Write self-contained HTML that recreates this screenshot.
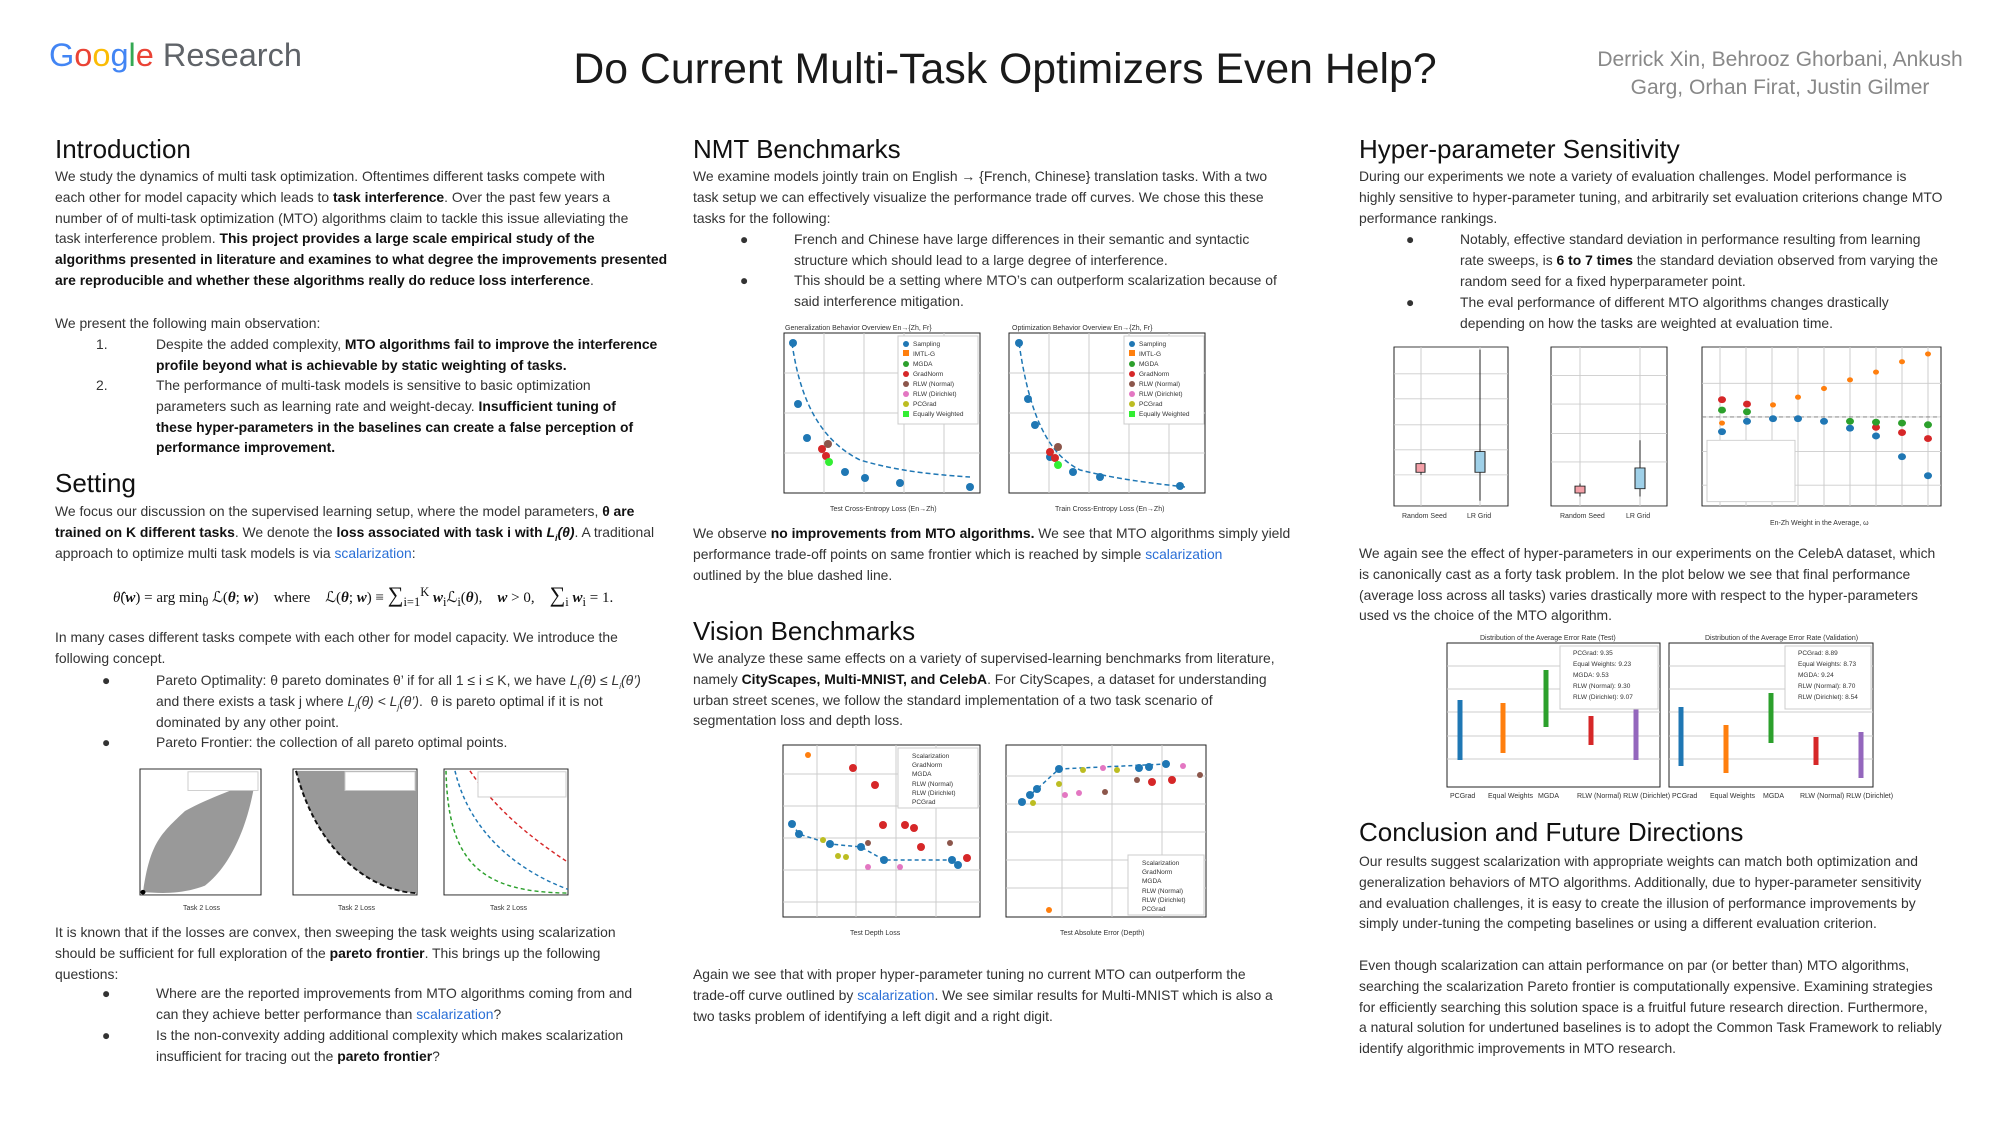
<!DOCTYPE html>
<html><head><meta charset="utf-8">
<style>
html,body{margin:0;padding:0;background:#fff;}
body{width:2000px;height:1125px;position:relative;overflow:hidden;font-family:"Liberation Sans",Arial,sans-serif;color:#222;}
.a{position:absolute;}
.h{position:absolute;font-size:26px;line-height:30px;color:#111;white-space:nowrap;}
.t{position:absolute;font-size:13.9px;line-height:20.8px;color:#333;white-space:nowrap;}
.t div{height:20.8px;}
b{color:#111;}
.lk{color:#2a6fd6;}
.bl{position:absolute;left:-54px;}
.nm{position:absolute;left:-60px;}
svg text{font-family:"Liberation Sans",Arial,sans-serif;}
</style></head><body>

<div class="a" style="left:49px;top:34px;font-size:32.5px;line-height:42px;white-space:nowrap;"><span style="color:#4285F4">G</span><span style="color:#EA4335">o</span><span style="color:#FBBC05">o</span><span style="color:#4285F4">g</span><span style="color:#34A853">l</span><span style="color:#EA4335">e</span> <span style="color:#5f6368">Research</span></div>
<div class="a" style="left:505px;width:1000px;top:44px;text-align:center;font-size:42.8px;line-height:50px;color:#1a1a1a;white-space:nowrap;">Do Current Multi-Task Optimizers Even Help?</div>
<div class="a" style="left:1570px;width:420px;top:46px;text-align:center;font-size:21px;line-height:28px;color:#888;">Derrick Xin, Behrooz Ghorbani, Ankush<br>Garg, Orhan Firat, Justin Gilmer</div>

<!-- Column 1 -->
<div class="h" style="left:55px;top:134px;">Introduction</div>
<div class="t" style="left:55px;top:166px;">
<div>We study the dynamics of multi task optimization. Oftentimes different tasks compete with</div>
<div>each other for model capacity which leads to <b>task interference</b>. Over the past few years a</div>
<div>number of of multi-task optimization (MTO) algorithms claim to tackle this issue alleviating the</div>
<div>task interference problem. <b>This project provides a large scale empirical study of the</b></div>
<div><b>algorithms presented in literature and examines to what degree the improvements presented</b></div>
<div><b>are reproducible and whether these algorithms really do reduce loss interference</b>.</div>
</div>
<div class="t" style="left:55px;top:313px;"><div>We present the following main observation:</div></div>
<div class="t" style="left:156px;top:334px;"><span class="nm">1.</span>
<div>Despite the added complexity, <b>MTO algorithms fail to improve the interference</b></div>
<div><b>profile beyond what is achievable by static weighting of tasks.</b></div></div>
<div class="t" style="left:156px;top:375px;"><span class="nm">2.</span>
<div>The performance of multi-task models is sensitive to basic optimization</div>
<div>parameters such as learning rate and weight-decay. <b>Insufficient tuning of</b></div>
<div><b>these hyper-parameters in the baselines can create a false perception of</b></div>
<div><b>performance improvement.</b></div></div>

<div class="h" style="left:55px;top:468px;">Setting</div>
<div class="t" style="left:55px;top:501px;">
<div>We focus our discussion on the supervised learning setup, where the model parameters, <b>θ are</b></div>
<div><b>trained on K different tasks</b>. We denote the <b>loss associated with task i with <i>L<sub style="font-size:9px">i</sub>(θ)</i></b>. A traditional</div>
<div>approach to optimize multi task models is via <span class="lk">scalarization</span>:</div>
</div>
<div class="a" style="left:113px;top:582px;font-family:'Liberation Serif',serif;font-size:15px;white-space:nowrap;color:#111;"><i>θ̂</i>(<b><i>w</i></b>) = arg min<sub>θ</sub> ℒ(<b><i>θ</i></b>; <b><i>w</i></b>) &nbsp;&nbsp; where &nbsp;&nbsp; ℒ(<b><i>θ</i></b>; <b><i>w</i></b>) ≡ <span style="font-size:22px">∑</span><sub>i=1</sub><sup>K</sup> <b><i>w</i></b><sub>i</sub>ℒ<sub>i</sub>(<b><i>θ</i></b>), &nbsp;&nbsp; <b><i>w</i></b> &gt; 0, &nbsp;&nbsp; <span style="font-size:22px">∑</span><sub>i</sub> <b><i>w</i></b><sub>i</sub> = 1.</div>
<div class="t" style="left:55px;top:627px;">
<div>In many cases different tasks compete with each other for model capacity. We introduce the</div>
<div>following concept.</div></div>
<div class="t" style="left:156px;top:670px;"><span class="bl">●</span>
<div>Pareto Optimality: θ pareto dominates θ’ if for all 1 ≤ i ≤ K, we have <i>L<sub style="font-size:8px">i</sub>(θ) ≤ L<sub style="font-size:8px">i</sub>(θ’)</i></div>
<div>and there exists a task j where <i>L<sub style="font-size:8px">j</sub>(θ) &lt; L<sub style="font-size:8px">j</sub>(θ’)</i>. &nbsp;θ is pareto optimal if it is not</div>
<div>dominated by any other point.</div></div>
<div class="t" style="left:156px;top:732px;"><span class="bl">●</span><div>Pareto Frontier: the collection of all pareto optimal points.</div></div>

<div class="t" style="left:55px;top:922px;">
<div>It is known that if the losses are convex, then sweeping the task weights using scalarization</div>
<div>should be sufficient for full exploration of the <b>pareto frontier</b>. This brings up the following</div>
<div>questions:</div></div>
<div class="t" style="left:156px;top:983px;"><span class="bl">●</span>
<div>Where are the reported improvements from MTO algorithms coming from and</div>
<div>can they achieve better performance than <span class="lk">scalarization</span>?</div></div>
<div class="t" style="left:156px;top:1025px;"><span class="bl">●</span>
<div>Is the non-convexity adding additional complexity which makes scalarization</div>
<div>insufficient for tracing out the <b>pareto frontier</b>?</div></div>

<!-- Column 2 -->
<div class="h" style="left:693px;top:134px;">NMT Benchmarks</div>
<div class="t" style="left:693px;top:166px;">
<div>We examine models jointly train on English → {French, Chinese} translation tasks. With a two</div>
<div>task setup we can effectively visualize the performance trade off curves. We chose this these</div>
<div>tasks for the following:</div></div>
<div class="t" style="left:794px;top:229px;"><span class="bl">●</span>
<div>French and Chinese have large differences in their semantic and syntactic</div>
<div>structure which should lead to a large degree of interference.</div></div>
<div class="t" style="left:794px;top:270px;"><span class="bl">●</span>
<div>This should be a setting where MTO’s can outperform scalarization because of</div>
<div>said interference mitigation.</div></div>
<div class="t" style="left:693px;top:523px;">
<div>We observe <b>no improvements from MTO algorithms.</b> We see that MTO algorithms simply yield</div>
<div>performance trade-off points on same frontier which is reached by simple <span class="lk">scalarization</span></div>
<div>outlined by the blue dashed line.</div></div>
<div class="h" style="left:693px;top:616px;">Vision Benchmarks</div>
<div class="t" style="left:693px;top:648px;">
<div>We analyze these same effects on a variety of supervised-learning benchmarks from literature,</div>
<div>namely <b>CityScapes, Multi-MNIST, and CelebA</b>. For CityScapes, a dataset for understanding</div>
<div>urban street scenes, we follow the standard implementation of a two task scenario of</div>
<div>segmentation loss and depth loss.</div></div>
<div class="t" style="left:693px;top:964px;">
<div>Again we see that with proper hyper-parameter tuning no current MTO can outperform the</div>
<div>trade-off curve outlined by <span class="lk">scalarization</span>. We see similar results for Multi-MNIST which is also a</div>
<div>two tasks problem of identifying a left digit and a right digit.</div></div>

<!-- Column 3 -->
<div class="h" style="left:1359px;top:134px;">Hyper-parameter Sensitivity</div>
<div class="t" style="left:1359px;top:166px;">
<div>During our experiments we note a variety of evaluation challenges. Model performance is</div>
<div>highly sensitive to hyper-parameter tuning, and arbitrarily set evaluation criterions change MTO</div>
<div>performance rankings.</div></div>
<div class="t" style="left:1460px;top:229px;"><span class="bl">●</span>
<div>Notably, effective standard deviation in performance resulting from learning</div>
<div>rate sweeps, is <b>6 to 7 times</b> the standard deviation observed from varying the</div>
<div>random seed for a fixed hyperparameter point.</div></div>
<div class="t" style="left:1460px;top:292px;"><span class="bl">●</span>
<div>The eval performance of different MTO algorithms changes drastically</div>
<div>depending on how the tasks are weighted at evaluation time.</div></div>
<div class="t" style="left:1359px;top:543px;">
<div>We again see the effect of hyper-parameters in our experiments on the CelebA dataset, which</div>
<div>is canonically cast as a forty task problem. In the plot below we see that final performance</div>
<div>(average loss across all tasks) varies drastically more with respect to the hyper-parameters</div>
<div>used vs the choice of the MTO algorithm.</div></div>
<div class="h" style="left:1359px;top:817px;">Conclusion and Future Directions</div>
<div class="t" style="left:1359px;top:851px;">
<div>Our results suggest scalarization with appropriate weights can match both optimization and</div>
<div>generalization behaviors of MTO algorithms. Additionally, due to hyper-parameter sensitivity</div>
<div>and evaluation challenges, it is easy to create the illusion of performance improvements by</div>
<div>simply under-tuning the competing baselines or using a different evaluation criterion.</div></div>
<div class="t" style="left:1359px;top:955px;">
<div>Even though scalarization can attain performance on par (or better than) MTO algorithms,</div>
<div>searching the scalarization Pareto frontier is computationally expensive. Examining strategies</div>
<div>for efficiently searching this solution space is a fruitful future research direction. Furthermore,</div>
<div>a natural solution for undertuned baselines is to adopt the Common Task Framework to reliably</div>
<div>identify algorithmic improvements in MTO research.</div></div>

<svg class="a" style="left:0;top:0" width="2000" height="1125" viewBox="0 0 2000 1125">
<!-- col1 charts -->
<g transform="translate(0,769) scale(1,0.933) translate(0,-780)">
<g fill="none" stroke="#222" stroke-width="1">
<rect x="140" y="780" width="121" height="135"/>
<rect x="293" y="780" width="124" height="135"/>
<rect x="444" y="780" width="124" height="135"/>
</g>
<path d="M143,912 C150,860 160,850 185,825 C210,810 240,800 255,792 C250,830 235,880 205,905 C180,915 160,913 143,912Z" fill="#999"/>
<path d="M296,782 L417,782 L417,913 C380,912 320,880 296,782Z" fill="#999"/>
<path d="M296,782 C320,880 380,912 417,913" fill="none" stroke="#111" stroke-width="2" stroke-dasharray="5,3"/>
<path d="M470,782 C500,830 540,860 568,880" fill="none" stroke="#d62728" stroke-width="1.5" stroke-dasharray="4,3"/>
<path d="M455,782 C470,850 520,890 568,909" fill="none" stroke="#1f77b4" stroke-width="1.5" stroke-dasharray="4,3"/>
<path d="M446,782 C448,880 480,912 568,913" fill="none" stroke="#2ca02c" stroke-width="1.5" stroke-dasharray="4,3"/>
<rect x="188" y="783" width="70" height="20" fill="#fff" stroke="#ccc"/>
<rect x="345" y="783" width="70" height="20" fill="#fff" stroke="#ccc"/>
<rect x="478" y="783" width="88" height="27" fill="#fff" stroke="#ccc"/>
<circle cx="143" cy="912" r="2.5" fill="#000"/>
</g>
<g fill="none" stroke="#222" stroke-width="1">
<rect x="784" y="333" width="196" height="160"/>
<rect x="1009" y="333" width="196" height="160"/>
<rect x="783" y="745" width="197" height="172"/>
<rect x="1006" y="745" width="200" height="172"/>
<rect x="1447" y="643" width="213" height="144"/>
<rect x="1669" y="643" width="204" height="144"/>
</g>
<g stroke="#ccc" stroke-width="1">
<line x1="784" y1="373" x2="980" y2="373"/><line x1="784" y1="413" x2="980" y2="413"/><line x1="784" y1="453" x2="980" y2="453"/>
<line x1="824" y1="333" x2="824" y2="493"/><line x1="864" y1="333" x2="864" y2="493"/><line x1="904" y1="333" x2="904" y2="493"/><line x1="944" y1="333" x2="944" y2="493"/>
<line x1="1009" y1="373" x2="1205" y2="373"/><line x1="1009" y1="413" x2="1205" y2="413"/><line x1="1009" y1="453" x2="1205" y2="453"/>
<line x1="1049" y1="333" x2="1049" y2="493"/><line x1="1089" y1="333" x2="1089" y2="493"/><line x1="1129" y1="333" x2="1129" y2="493"/><line x1="1169" y1="333" x2="1169" y2="493"/>
<line x1="783" y1="774" x2="980" y2="774"/><line x1="783" y1="806" x2="980" y2="806"/><line x1="783" y1="838" x2="980" y2="838"/><line x1="783" y1="870" x2="980" y2="870"/><line x1="783" y1="902" x2="980" y2="902"/>
<line x1="817" y1="745" x2="817" y2="917"/><line x1="856" y1="745" x2="856" y2="917"/><line x1="896" y1="745" x2="896" y2="917"/><line x1="936" y1="745" x2="936" y2="917"/>
<line x1="1006" y1="776" x2="1206" y2="776"/><line x1="1006" y1="804" x2="1206" y2="804"/><line x1="1006" y1="832" x2="1206" y2="832"/><line x1="1006" y1="860" x2="1206" y2="860"/><line x1="1006" y1="888" x2="1206" y2="888"/>
<line x1="1062" y1="745" x2="1062" y2="917"/><line x1="1112" y1="745" x2="1112" y2="917"/><line x1="1162" y1="745" x2="1162" y2="917"/>
<line x1="1447" y1="666" x2="1660" y2="666"/><line x1="1447" y1="689" x2="1660" y2="689"/><line x1="1447" y1="712" x2="1660" y2="712"/><line x1="1447" y1="736" x2="1660" y2="736"/><line x1="1447" y1="759" x2="1660" y2="759"/>
<line x1="1669" y1="666" x2="1873" y2="666"/><line x1="1669" y1="689" x2="1873" y2="689"/><line x1="1669" y1="712" x2="1873" y2="712"/><line x1="1669" y1="736" x2="1873" y2="736"/><line x1="1669" y1="759" x2="1873" y2="759"/>
</g>
<!-- hyper charts (scaled) -->
<g transform="translate(0,347) scale(1,0.864) translate(0,-347)">
<g fill="none" stroke="#222" stroke-width="1">
<rect x="1394" y="347" width="114" height="184"/>
<rect x="1551" y="347" width="116" height="184"/>
<rect x="1702" y="347" width="239" height="184"/>
</g>
<g stroke="#ccc" stroke-width="1">
<line x1="1394" y1="378" x2="1508" y2="378"/><line x1="1394" y1="407" x2="1508" y2="407"/><line x1="1394" y1="437" x2="1508" y2="437"/><line x1="1394" y1="466" x2="1508" y2="466"/><line x1="1394" y1="495" x2="1508" y2="495"/>
<line x1="1421" y1="347" x2="1421" y2="531"/><line x1="1480" y1="347" x2="1480" y2="531"/>
<line x1="1551" y1="380" x2="1667" y2="380"/><line x1="1551" y1="413" x2="1667" y2="413"/><line x1="1551" y1="447" x2="1667" y2="447"/><line x1="1551" y1="480" x2="1667" y2="480"/>
<line x1="1580" y1="347" x2="1580" y2="531"/><line x1="1640" y1="347" x2="1640" y2="531"/>
<line x1="1702" y1="389" x2="1941" y2="389"/><line x1="1702" y1="428" x2="1941" y2="428"/><line x1="1702" y1="468" x2="1941" y2="468"/><line x1="1702" y1="507" x2="1941" y2="507"/>
<line x1="1720" y1="347" x2="1720" y2="531"/><line x1="1746" y1="347" x2="1746" y2="531"/><line x1="1772" y1="347" x2="1772" y2="531"/><line x1="1798" y1="347" x2="1798" y2="531"/><line x1="1824" y1="347" x2="1824" y2="531"/><line x1="1850" y1="347" x2="1850" y2="531"/><line x1="1876" y1="347" x2="1876" y2="531"/><line x1="1902" y1="347" x2="1902" y2="531"/><line x1="1928" y1="347" x2="1928" y2="531"/>
</g>
<line x1="1421" y1="480" x2="1421" y2="495" stroke="#222"/>
<line x1="1480" y1="350" x2="1480" y2="525" stroke="#222"/>
<line x1="1580" y1="505" x2="1580" y2="520" stroke="#222"/>
<line x1="1640" y1="455" x2="1640" y2="520" stroke="#222"/>
<rect x="1416" y="482" width="9" height="10" fill="#f4a0a8" stroke="#222"/>
<rect x="1475" y="468" width="10" height="24" fill="#9fd0e8" stroke="#222"/>
<rect x="1575" y="508" width="10" height="8" fill="#f4a0a8" stroke="#222"/>
<rect x="1635" y="487" width="10" height="24" fill="#9fd0e8" stroke="#222"/>
<path d="M1702,428 L1941,428" stroke="#777" stroke-dasharray="4,3"/>
<g fill="#1f77b4"><circle cx="1722" cy="445" r="4"/><circle cx="1747" cy="433" r="4"/><circle cx="1773" cy="430" r="4"/><circle cx="1798" cy="430" r="4"/><circle cx="1824" cy="433" r="4"/><circle cx="1850" cy="441" r="4"/><circle cx="1876" cy="450" r="4"/><circle cx="1902" cy="474" r="4"/><circle cx="1928" cy="496" r="4"/></g>
<g fill="#ff7f0e"><circle cx="1722" cy="435" r="3"/><circle cx="1773" cy="414" r="3"/><circle cx="1798" cy="405" r="3"/><circle cx="1824" cy="395" r="3"/><circle cx="1850" cy="385" r="3"/><circle cx="1876" cy="376" r="3"/><circle cx="1902" cy="364" r="3"/><circle cx="1928" cy="355" r="3"/></g>
<g fill="#d62728"><circle cx="1722" cy="408" r="4"/><circle cx="1747" cy="413" r="4"/><circle cx="1876" cy="440" r="4"/><circle cx="1902" cy="446" r="4"/><circle cx="1928" cy="453" r="4"/></g>
<g fill="#2ca02c"><circle cx="1722" cy="420" r="4"/><circle cx="1747" cy="422" r="4"/><circle cx="1850" cy="433" r="4"/><circle cx="1876" cy="434" r="4"/><circle cx="1902" cy="435" r="4"/><circle cx="1928" cy="437" r="4"/></g>
<rect x="1707" y="455" width="88" height="71" fill="#fff" stroke="#ccc"/>
</g>
<!-- nmt curves -->
<path d="M792,343 C800,400 820,440 860,460 C900,472 940,475 970,477" fill="none" stroke="#1f77b4" stroke-width="1.5" stroke-dasharray="5,3"/>
<g fill="#1f77b4"><circle cx="793" cy="343" r="4"/><circle cx="798" cy="404" r="4"/><circle cx="807" cy="438" r="4"/><circle cx="845" cy="472" r="4"/><circle cx="865" cy="478" r="4"/><circle cx="900" cy="483" r="4"/><circle cx="970" cy="487" r="4"/>
<circle cx="1019" cy="343" r="4"/><circle cx="1028" cy="399" r="4"/><circle cx="1035" cy="425" r="4"/><circle cx="1050" cy="457" r="4"/><circle cx="1073" cy="472" r="4"/><circle cx="1100" cy="477" r="4"/><circle cx="1180" cy="486" r="4"/></g>
<path d="M1019,343 C1030,420 1050,455 1080,470 C1120,480 1160,484 1185,487" fill="none" stroke="#1f77b4" stroke-width="1.5" stroke-dasharray="5,3"/>
<g fill="#d62728"><circle cx="822" cy="449" r="4"/><circle cx="826" cy="456" r="4"/><circle cx="1050" cy="452" r="4"/><circle cx="1055" cy="458" r="4"/></g>
<g fill="#8c564b"><circle cx="828" cy="444" r="4"/><circle cx="1058" cy="447" r="4"/></g>
<g fill="#33ee33"><circle cx="829" cy="462" r="4"/><circle cx="1058" cy="465" r="4"/></g>
<rect x="898" y="336" width="80" height="88" fill="#fff" stroke="#ccc"/>
<rect x="1124" y="336" width="80" height="88" fill="#fff" stroke="#ccc"/>
<g fill="#1f77b4"><circle cx="906" cy="344" r="3"/><circle cx="1132" cy="344" r="3"/></g>
<g fill="#ff7f0e"><rect x="903" y="350" width="6" height="6"/><rect x="1129" y="350" width="6" height="6"/></g>
<g fill="#2ca02c"><circle cx="906" cy="364" r="3"/><circle cx="1132" cy="364" r="3"/></g>
<g fill="#d62728"><circle cx="906" cy="374" r="3"/><circle cx="1132" cy="374" r="3"/></g>
<g fill="#8c564b"><circle cx="906" cy="384" r="3"/><circle cx="1132" cy="384" r="3"/></g>
<g fill="#e377c2"><circle cx="906" cy="394" r="3"/><circle cx="1132" cy="394" r="3"/></g>
<g fill="#bcbd22"><circle cx="906" cy="404" r="3"/><circle cx="1132" cy="404" r="3"/></g>
<g fill="#33ee33"><rect x="903" y="411" width="6" height="6"/><rect x="1129" y="411" width="6" height="6"/></g>
<g font-size="6.5" fill="#333">
<text x="913" y="346">Sampling</text><text x="913" y="356">IMTL-G</text><text x="913" y="366">MGDA</text><text x="913" y="376">GradNorm</text><text x="913" y="386">RLW (Normal)</text><text x="913" y="396">RLW (Dirichlet)</text><text x="913" y="406">PCGrad</text><text x="913" y="416">Equally Weighted</text>
<text x="1139" y="346">Sampling</text><text x="1139" y="356">IMTL-G</text><text x="1139" y="366">MGDA</text><text x="1139" y="376">GradNorm</text><text x="1139" y="386">RLW (Normal)</text><text x="1139" y="396">RLW (Dirichlet)</text><text x="1139" y="406">PCGrad</text><text x="1139" y="416">Equally Weighted</text>
</g>
<!-- vision -->
<path d="M792,824 L799,834 L830,844 L861,847 L884,860 L952,860 L958,864" fill="none" stroke="#1f77b4" stroke-width="1.5" stroke-dasharray="4,3"/>
<g fill="#1f77b4"><circle cx="792" cy="824" r="4"/><circle cx="799" cy="834" r="4"/><circle cx="830" cy="844" r="4"/><circle cx="861" cy="847" r="4"/><circle cx="884" cy="860" r="4"/><circle cx="952" cy="860" r="4"/><circle cx="958" cy="865" r="4"/>
<circle cx="1022" cy="802" r="4"/><circle cx="1030" cy="795" r="4"/><circle cx="1037" cy="789" r="4"/><circle cx="1059" cy="769" r="4"/><circle cx="1139" cy="768" r="4"/><circle cx="1149" cy="767" r="4"/><circle cx="1166" cy="764" r="4"/></g>
<path d="M1022,802 L1037,789 L1059,769 L1166,764" fill="none" stroke="#1f77b4" stroke-width="1.5" stroke-dasharray="4,3"/>
<g fill="#d62728"><circle cx="853" cy="768" r="4"/><circle cx="875" cy="785" r="4"/><circle cx="883" cy="825" r="4"/><circle cx="905" cy="825" r="4"/><circle cx="914" cy="828" r="4"/><circle cx="921" cy="847" r="4"/><circle cx="967" cy="858" r="4"/><circle cx="1152" cy="782" r="4"/><circle cx="1172" cy="780" r="4"/></g>
<g fill="#8c564b"><circle cx="868" cy="843" r="3"/><circle cx="950" cy="843" r="3"/><circle cx="1105" cy="792" r="3"/><circle cx="1137" cy="780" r="3"/><circle cx="1200" cy="775" r="3"/></g>
<g fill="#bcbd22"><circle cx="823" cy="840" r="3"/><circle cx="838" cy="856" r="3"/><circle cx="846" cy="857" r="3"/><circle cx="1033" cy="803" r="3"/><circle cx="1059" cy="784" r="3"/><circle cx="1083" cy="770" r="3"/><circle cx="1117" cy="770" r="3"/></g>
<g fill="#e377c2"><circle cx="868" cy="867" r="3"/><circle cx="900" cy="867" r="3"/><circle cx="1065" cy="795" r="3"/><circle cx="1079" cy="793" r="3"/><circle cx="1103" cy="768" r="3"/><circle cx="1183" cy="766" r="3"/></g>
<g fill="#ff7f0e"><circle cx="808" cy="755" r="3"/><circle cx="1049" cy="910" r="3"/></g>
<rect x="898" y="748" width="80" height="60" fill="#fff" stroke="#ccc"/>
<rect x="1128" y="855" width="76" height="60" fill="#fff" stroke="#ccc"/>
<g font-size="6.5" fill="#333">
<text x="912" y="758">Scalarization</text><text x="912" y="767">GradNorm</text><text x="912" y="776">MGDA</text><text x="912" y="786">RLW (Normal)</text><text x="912" y="795">RLW (Dirichlet)</text><text x="912" y="804">PCGrad</text>
<text x="1142" y="865">Scalarization</text><text x="1142" y="874">GradNorm</text><text x="1142" y="883">MGDA</text><text x="1142" y="893">RLW (Normal)</text><text x="1142" y="902">RLW (Dirichlet)</text><text x="1142" y="911">PCGrad</text>
</g>
<!-- celeba -->
<g stroke-width="5">
<line x1="1460" y1="700" x2="1460" y2="760" stroke="#1f77b4"/>
<line x1="1503" y1="703" x2="1503" y2="753" stroke="#ff7f0e"/>
<line x1="1546" y1="670" x2="1546" y2="727" stroke="#2ca02c"/>
<line x1="1591" y1="716" x2="1591" y2="745" stroke="#d62728"/>
<line x1="1636" y1="707" x2="1636" y2="760" stroke="#9467bd"/>
<line x1="1681" y1="707" x2="1681" y2="766" stroke="#1f77b4"/>
<line x1="1726" y1="725" x2="1726" y2="773" stroke="#ff7f0e"/>
<line x1="1771" y1="693" x2="1771" y2="743" stroke="#2ca02c"/>
<line x1="1816" y1="737" x2="1816" y2="765" stroke="#d62728"/>
<line x1="1861" y1="732" x2="1861" y2="778" stroke="#9467bd"/>
</g>
<rect x="1560" y="646" width="98" height="63" fill="#fff" stroke="#ccc"/>
<rect x="1785" y="646" width="86" height="63" fill="#fff" stroke="#ccc"/>
<g font-size="6.5" fill="#333">
<text x="1573" y="655">PCGrad: 9.35</text><text x="1573" y="666">Equal Weights: 9.23</text><text x="1573" y="677">MGDA: 9.53</text><text x="1573" y="688">RLW (Normal): 9.30</text><text x="1573" y="699">RLW (Dirichlet): 9.07</text>
<text x="1798" y="655">PCGrad: 8.89</text><text x="1798" y="666">Equal Weights: 8.73</text><text x="1798" y="677">MGDA: 9.24</text><text x="1798" y="688">RLW (Normal): 8.70</text><text x="1798" y="699">RLW (Dirichlet): 8.54</text>
</g>
<g font-size="7" fill="#333">
<text x="785" y="330">Generalization Behavior Overview En→{Zh, Fr}</text>
<text x="1012" y="330">Optimization Behavior Overview En→{Zh, Fr}</text>
<text x="830" y="511">Test Cross-Entropy Loss (En→Zh)</text>
<text x="1055" y="511">Train Cross-Entropy Loss (En→Zh)</text>
<text x="850" y="935">Test Depth Loss</text>
<text x="1060" y="935">Test Absolute Error (Depth)</text>
<text x="1402" y="518">Random Seed</text><text x="1467" y="518">LR Grid</text>
<text x="1560" y="518">Random Seed</text><text x="1626" y="518">LR Grid</text>
<text x="1770" y="525">En-Zh Weight in the Average, ω</text>
<text x="1480" y="640">Distribution of the Average Error Rate (Test)</text>
<text x="1705" y="640">Distribution of the Average Error Rate (Validation)</text>
<text x="1450" y="798">PCGrad</text><text x="1488" y="798">Equal Weights</text><text x="1538" y="798">MGDA</text><text x="1577" y="798">RLW (Normal) RLW (Dirichlet)</text>
<text x="1672" y="798">PCGrad</text><text x="1710" y="798">Equal Weights</text><text x="1763" y="798">MGDA</text><text x="1800" y="798">RLW (Normal) RLW (Dirichlet)</text>
<text x="183" y="910">Task 2 Loss</text><text x="338" y="910">Task 2 Loss</text><text x="490" y="910">Task 2 Loss</text>
</g>
</svg>
</body></html>
